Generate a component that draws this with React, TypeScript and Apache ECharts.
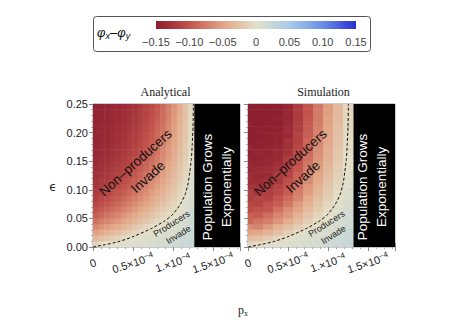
import React, { useEffect, useRef } from "react";
import * as echarts from "echarts";

// ---------- data ----------
const PX_UNIT = 1e-4; // px values below are in units of 1e-4
const X_MAX = 1.8375; // axis extent (×1e-4)
const EPS_MAX = 0.25;
const GROWTH_START = 1.26; // px (×1e-4) beyond which the population grows exponentially

const epsEdges = [0, 0.01, 0.02, 0.03, 0.04, 0.05, 0.06, 0.07, 0.08, 0.09, 0.1, 0.11, 0.12, 0.13, 0.14, 0.15, 0.16, 0.17, 0.18, 0.19, 0.2, 0.21, 0.22, 0.23, 0.24, 0.25];

// Analytical panel: column edges in px (×1e-4); each column lists phi_x - phi_y from eps = 0 upward
const analyticalPxEdges = [0, 0.07, 0.14, 0.21, 0.28, 0.35, 0.42, 0.49, 0.56, 0.63, 0.7, 0.77, 0.84, 0.91, 0.98, 1.05, 1.12, 1.19, 1.26];
const analyticalGrid = [
  [-.011,-.034,-.053,-.069,-.082,-.093,-.102,-.110,-.116,-.121,-.125,-.128,-.131,-.134,-.136,-.137,-.139,-.140,-.141,-.141,-.142,-.143,-.143,-.143,-.144],
  [-.005,-.027,-.046,-.062,-.075,-.086,-.096,-.104,-.110,-.116,-.121,-.124,-.128,-.131,-.133,-.135,-.136,-.138,-.139,-.140,-.141,-.141,-.142,-.142,-.143],
  [0,-.022,-.040,-.055,-.069,-.080,-.090,-.098,-.105,-.111,-.116,-.120,-.124,-.127,-.130,-.132,-.134,-.136,-.137,-.138,-.139,-.140,-.141,-.141,-.142],
  [.001,-.016,-.034,-.049,-.062,-.074,-.083,-.092,-.099,-.105,-.111,-.115,-.119,-.123,-.126,-.128,-.130,-.132,-.134,-.135,-.137,-.138,-.138,-.139,-.140],
  [.001,-.012,-.029,-.044,-.056,-.068,-.078,-.086,-.094,-.100,-.106,-.111,-.115,-.119,-.122,-.125,-.127,-.129,-.131,-.133,-.134,-.135,-.136,-.137,-.138],
  [.003,-.005,-.022,-.037,-.050,-.061,-.071,-.079,-.087,-.094,-.100,-.105,-.109,-.113,-.117,-.120,-.123,-.125,-.127,-.129,-.131,-.132,-.133,-.134,-.135],
  [.004,0,-.015,-.029,-.042,-.053,-.063,-.072,-.080,-.087,-.093,-.098,-.103,-.107,-.111,-.114,-.117,-.120,-.122,-.124,-.126,-.128,-.129,-.130,-.131],
  [.005,.001,-.009,-.023,-.036,-.047,-.056,-.065,-.073,-.080,-.086,-.092,-.097,-.101,-.105,-.109,-.112,-.115,-.117,-.119,-.121,-.123,-.124,-.126,-.127],
  [.006,.003,-.003,-.016,-.028,-.039,-.049,-.058,-.065,-.072,-.079,-.084,-.089,-.094,-.098,-.102,-.105,-.108,-.110,-.113,-.115,-.117,-.118,-.120,-.121],
  [.008,.005,.001,-.009,-.021,-.031,-.041,-.049,-.057,-.064,-.070,-.076,-.081,-.086,-.090,-.094,-.097,-.100,-.103,-.105,-.107,-.109,-.111,-.113,-.114],
  [.009,.006,.003,-.002,-.014,-.024,-.033,-.041,-.049,-.055,-.062,-.067,-.072,-.077,-.081,-.085,-.088,-.091,-.094,-.097,-.099,-.101,-.103,-.105,-.106],
  [.011,.008,.004,.001,-.007,-.017,-.025,-.033,-.040,-.047,-.053,-.058,-.063,-.068,-.072,-.075,-.079,-.082,-.085,-.087,-.089,-.091,-.093,-.095,-.097],
  [.013,.010,.006,.003,-.001,-.010,-.018,-.025,-.032,-.038,-.043,-.048,-.053,-.057,-.061,-.065,-.068,-.071,-.074,-.076,-.079,-.081,-.083,-.084,-.086],
  [.015,.011,.008,.005,.002,-.003,-.010,-.017,-.023,-.029,-.034,-.038,-.043,-.047,-.050,-.053,-.057,-.059,-.062,-.064,-.066,-.068,-.070,-.072,-.073],
  [.017,.014,.010,.007,.004,.001,-.004,-.009,-.015,-.020,-.024,-.028,-.032,-.035,-.039,-.042,-.044,-.047,-.049,-.051,-.053,-.055,-.057,-.058,-.060],
  [.019,.016,.013,.010,.008,.005,.002,-.001,-.005,-.009,-.013,-.017,-.020,-.023,-.026,-.028,-.031,-.033,-.035,-.037,-.038,-.040,-.041,-.043,-.044],
  [.021,.018,.016,.014,.011,.009,.007,.004,.002,-.001,-.003,-.006,-.009,-.011,-.013,-.015,-.017,-.018,-.020,-.021,-.023,-.024,-.025,-.026,-.027],
  [.023,.022,.020,.018,.017,.015,.014,.012,.010,.009,.007,.006,.004,.002,.001,-.001,-.002,-.003,-.004,-.005,-.005,-.006,-.007,-.007,-.008],
];

// Simulation panel: column centres in px (×1e-4), column width 0.125
const simulationPxCenters = [0, 0.125, 0.25, 0.375, 0.5, 0.625, 0.75, 0.875, 1.0, 1.125, 1.25];
const SIM_CELL = 0.125;
const simulationGrid = [
  [-.010,-.030,-.052,-.066,-.088,-.092,-.108,-.110,-.121,-.119,-.130,-.134,-.132,-.140,-.138,-.143,-.145,-.142,-.147,-.146,-.148,-.145,-.148,-.147,-.148],
  [-.006,-.026,-.048,-.070,-.079,-.096,-.101,-.114,-.112,-.126,-.128,-.135,-.138,-.136,-.142,-.144,-.141,-.146,-.145,-.147,-.146,-.148,-.147,-.148,-.147],
  [.001,-.018,-.037,-.056,-.072,-.083,-.098,-.102,-.115,-.118,-.125,-.129,-.136,-.134,-.140,-.139,-.144,-.143,-.146,-.145,-.147,-.146,-.148,-.147,-.148],
  [.003,-.008,-.027,-.041,-.060,-.068,-.082,-.093,-.099,-.110,-.114,-.123,-.121,-.130,-.133,-.138,-.136,-.141,-.143,-.142,-.145,-.146,-.144,-.147,-.146],
  [.005,.000,-.014,-.030,-.043,-.058,-.064,-.078,-.085,-.094,-.101,-.104,-.112,-.116,-.122,-.120,-.128,-.131,-.129,-.136,-.134,-.139,-.140,-.138,-.141],
  [.007,.004,-.004,-.016,-.030,-.038,-.052,-.057,-.068,-.073,-.081,-.087,-.090,-.097,-.100,-.106,-.104,-.111,-.115,-.113,-.118,-.117,-.121,-.120,-.122],
  [.010,.007,.003,-.005,-.014,-.024,-.031,-.040,-.046,-.054,-.058,-.065,-.068,-.074,-.077,-.082,-.085,-.088,-.087,-.093,-.095,-.094,-.098,-.100,-.099],
  [.013,.010,.006,.002,-.003,-.010,-.017,-.024,-.029,-.036,-.040,-.045,-.049,-.054,-.057,-.061,-.063,-.066,-.068,-.071,-.070,-.074,-.076,-.075,-.078],
  [.016,.013,.010,.007,.003,.001,-.004,-.009,-.014,-.018,-.023,-.026,-.030,-.033,-.037,-.039,-.042,-.044,-.047,-.048,-.050,-.052,-.051,-.054,-.055],
  [.020,.017,.014,.011,.009,.006,.004,.001,-.002,-.004,-.007,-.010,-.013,-.015,-.017,-.020,-.022,-.024,-.025,-.027,-.028,-.030,-.031,-.032,-.033],
  [.024,.022,.020,.018,.016,.014,.012,.010,.008,.007,.005,.004,.002,.001,.000,-.001,-.002,-.003,-.004,-.005,-.006,-.007,-.008,-.008,-.009],
];

// phi_x = phi_y contour (dashed)
const contourPx = [0, 0.15, 0.31, 0.5, 0.74, 0.9, 0.99, 1.08, 1.15, 1.19, 1.21, 1.23, 1.24, 1.25, 1.255];
const contourEps = [0, 0.004, 0.009, 0.018, 0.033, 0.046, 0.056, 0.072, 0.091, 0.112, 0.131, 0.155, 0.178, 0.21, 0.25];

const xTickLabels = ["0", "0.5×10{sup|−4}", "1.×10{sup|−4}", "1.5×10{sup|−4}"];
const yTickLabels = ["0.00", "0.05", "0.10", "0.15", "0.20", "0.25"];
const legendTickLabels = ["−0.15", "−0.10", "−0.05", "0", "0.05", "0.10", "0.15"];
const legendColors = ["#8b1c2e", "#c2534c", "#e3a586", "#e3e0c9", "#a8cbe9", "#6a8fe5", "#2a2ed4"];
const panelTitles = ["Analytical", "Simulation"];

// annotation anchors in data units (px ×1e-4, eps)
const noteNonProducers = [0.61, 0.135];
const noteProducers = [1.025, 0.031];
const noteGrowth = [1.55, 0.105];

// ---------- helpers ----------
function buildAnalytical() {
  const out: number[][] = [];
  analyticalGrid.forEach((col, c) => {
    col.forEach((v, r) => {
      out.push([analyticalPxEdges[c] * PX_UNIT, analyticalPxEdges[c + 1] * PX_UNIT, epsEdges[r], epsEdges[r + 1], v]);
    });
  });
  return out;
}
function buildSimulation() {
  const out: number[][] = [];
  simulationGrid.forEach((col, c) => {
    const cx = simulationPxCenters[c];
    col.forEach((v, r) => {
      out.push([(cx - SIM_CELL / 2) * PX_UNIT, (cx + SIM_CELL / 2) * PX_UNIT, epsEdges[r], epsEdges[r + 1], v]);
    });
  });
  return out;
}

const renderCell = (params: any, api: any) => {
  const a = api.coord([api.value(0), api.value(2)]);
  const b = api.coord([api.value(1), api.value(3)]);
  const cs = params.coordSys;
  const x0 = Math.max(Math.min(a[0], b[0]), cs.x);
  const x1 = Math.min(Math.max(a[0], b[0]) + 0.5, cs.x + cs.width);
  const y0 = Math.max(Math.min(a[1], b[1]) - 0.5, cs.y);
  const y1 = Math.min(Math.max(a[1], b[1]), cs.y + cs.height);
  if (x1 <= x0 || y1 <= y0) return null;
  return {
    type: "rect",
    shape: { x: x0, y: y0, width: x1 - x0, height: y1 - y0 },
    style: { fill: api.visual("color") },
  };
};

const TICK_COLOR = "#888";
const LABEL_FONT = "Liberation Sans";

function xAxis(gridIndex: number, position: string, labels: boolean) {
  return {
    type: "value",
    gridIndex,
    position,
    min: 0,
    max: X_MAX * PX_UNIT,
    interval: 0.5 * PX_UNIT,
    axisLine: { show: false },
    splitLine: { show: false },
    axisTick: { show: true, inside: true, length: 4, lineStyle: { color: TICK_COLOR } },
    minorTick: { show: true, splitNumber: 5, length: 2, lineStyle: { color: "#aaa" } },
    axisLabel: labels
      ? {
          show: true,
          rotate: 18,
          align: "center",
          verticalAlign: "middle",
          margin: 16,
          fontFamily: LABEL_FONT,
          fontSize: 11,
          color: "#222",
          lineHeight: 13,
          rich: { sup: { fontSize: 8, fontFamily: LABEL_FONT, color: "#222", verticalAlign: "top", lineHeight: 8 } },
          formatter: (v: number) => {
            const k = v / (0.5 * PX_UNIT);
            const i = Math.round(k);
            return Math.abs(k - i) < 1e-6 && i < xTickLabels.length ? xTickLabels[i] : "";
          },
        }
      : { show: false },
  };
}
function yAxis(gridIndex: number, position: string, labels: boolean) {
  return {
    type: "value",
    gridIndex,
    position,
    min: 0,
    max: EPS_MAX,
    interval: 0.05,
    axisLine: { show: false },
    splitLine: { show: false },
    axisTick: { show: true, inside: true, length: 4, lineStyle: { color: TICK_COLOR } },
    minorTick: { show: true, splitNumber: 5, length: 2, lineStyle: { color: "#aaa" } },
    axisLabel: labels
      ? {
          show: true,
          margin: 5,
          fontFamily: LABEL_FONT,
          fontSize: 11,
          color: "#222",
          formatter: (v: number) => yTickLabels[Math.round(v / 0.05)] ?? "",
        }
      : { show: false },
  };
}

function contourSeries(xi: number) {
  return {
    type: "line",
    xAxisIndex: xi,
    yAxisIndex: xi,
    data: contourPx.map((p, i) => [p * PX_UNIT, contourEps[i]]),
    symbol: "none",
    smooth: 0.2,
    silent: true,
    lineStyle: { color: "#111", width: 1, type: [3, 2] },
    markArea: {
      silent: true,
      itemStyle: { color: "#000" },
      data: [[{ xAxis: GROWTH_START * PX_UNIT, yAxis: 0 }, { xAxis: X_MAX * PX_UNIT, yAxis: EPS_MAX }]],
    },
  };
}

export default function App() {
  const ref = useRef<HTMLDivElement>(null);
  useEffect(() => {
    if (!ref.current) return;
    const chart = echarts.init(ref.current, undefined, { renderer: "svg" });
    const grids = [
      { left: 93, top: 104, width: 147, height: 143 },
      { left: 248, top: 104, width: 147, height: 143 },
    ];
    const gradStops = legendColors.map((c, i) => ({ offset: i / (legendColors.length - 1), color: c }));
    const legendGraphics: any[] = [
      { type: "rect", z: 100, shape: { x: 93.5, y: 16.5, width: 277, height: 35, r: 3 }, style: { fill: "#fff", stroke: "#555", lineWidth: 1 } },
      { type: "rect", z: 101, shape: { x: 156, y: 21, width: 200, height: 8 }, style: { fill: new echarts.graphic.LinearGradient(0, 0, 1, 0, gradStops) } },
      {
        type: "text", z: 101, x: 97, y: 32,
        style: {
          text: "{a|φ}{s|x}{a|–φ}{s|y}",
          align: "left", verticalAlign: "middle",
          rich: {
            a: { fontSize: 13, fontStyle: "italic", fontFamily: LABEL_FONT, fill: "#111", lineHeight: 16 },
            s: { fontSize: 9, fontStyle: "italic", fontFamily: LABEL_FONT, fill: "#111", verticalAlign: "bottom", lineHeight: 10 },
          },
        },
      },
      ...legendTickLabels.map((t, i) => ({
        type: "text", z: 101, x: 156 + (i * 200) / (legendTickLabels.length - 1), y: 42,
        style: { text: t, align: "center", verticalAlign: "middle", fontSize: 11, fontFamily: LABEL_FONT, fill: "#444" },
      })),
    ];
    const titleGraphics = panelTitles.map((t, i) => ({
      type: "text", z: 100, x: grids[i].left + grids[i].width / 2 - (i === 0 ? 1 : -2), y: 92,
      style: { text: t, align: "center", verticalAlign: "middle", fontSize: 12, fontFamily: "Liberation Serif", fill: "#222" },
    }));
    const axisNames = [
      { type: "text", z: 100, x: 53, y: 187, style: { text: "ϵ", align: "center", verticalAlign: "middle", fontSize: 12, fontFamily: "DejaVu Sans", fill: "#222" } },
      {
        type: "text", z: 100, x: 243, y: 310,
        style: {
          text: "{a|p}{b|x}", align: "center", verticalAlign: "middle",
          rich: {
            a: { fontSize: 12, fontFamily: "Liberation Serif", fill: "#222", lineHeight: 14 },
            b: { fontSize: 8, fontFamily: "Liberation Serif", fill: "#222", verticalAlign: "bottom", lineHeight: 10 },
          },
        },
      },
    ];

    chart.setOption({
      animation: false,
      backgroundColor: "#fff",
      grid: grids.map((g) => ({ ...g, show: true, borderColor: "#999", borderWidth: 1, backgroundColor: "transparent" })),
      xAxis: [xAxis(0, "bottom", true), xAxis(0, "top", false), xAxis(1, "bottom", true), xAxis(1, "top", false)],
      yAxis: [yAxis(0, "left", true), yAxis(0, "right", false), yAxis(1, "left", false), yAxis(1, "right", false)],
      visualMap: {
        type: "continuous",
        show: false,
        min: -0.15,
        max: 0.15,
        dimension: 4,
        seriesIndex: [0, 1],
        inRange: { color: legendColors },
      },
      series: [
        { type: "custom", xAxisIndex: 0, yAxisIndex: 0, renderItem: renderCell, data: buildAnalytical(), encode: { x: [0, 1], y: [2, 3] }, silent: true },
        { type: "custom", xAxisIndex: 2, yAxisIndex: 2, renderItem: renderCell, data: buildSimulation(), encode: { x: [0, 1], y: [2, 3] }, silent: true },
        contourSeries(0),
        contourSeries(2),
      ],
    });

    const notes: any[] = [];
    [0, 2].forEach((ai) => {
      const toPx = (p: number[]) => chart.convertToPixel({ xAxisIndex: ai, yAxisIndex: ai } as any, [p[0] * PX_UNIT, p[1]]) as number[];
      const a = toPx(noteNonProducers);
      notes.push({
        type: "text", z: 120, x: a[0], y: a[1], rotation: (42 * Math.PI) / 180,
        style: { text: "Non–producers\nInvade", align: "center", verticalAlign: "middle", fontSize: 13.5, lineHeight: 19, fontFamily: LABEL_FONT, fill: "#111" },
      });
      const b = toPx(noteProducers);
      notes.push({
        type: "text", z: 120, x: b[0], y: b[1], rotation: (32 * Math.PI) / 180,
        style: { text: "Producers\nInvade", align: "center", verticalAlign: "middle", fontSize: 9, lineHeight: 13, fontFamily: LABEL_FONT, fill: "#222" },
      });
      const c = toPx(noteGrowth);
      notes.push({
        type: "text", z: 120, x: c[0], y: c[1], rotation: Math.PI / 2,
        style: { text: "Population Grows\nExponentially", align: "center", verticalAlign: "middle", fontSize: 13.5, lineHeight: 19, fontFamily: LABEL_FONT, fill: "#fff" },
      });
    });

    chart.setOption({ graphic: [...legendGraphics, ...titleGraphics, ...axisNames, ...notes] });
    return () => chart.dispose();
  }, []);
  return <div ref={ref} style={{ position: "fixed", left: 0, top: 0, width: 465, height: 320, background: "#fff" }} />;
}
